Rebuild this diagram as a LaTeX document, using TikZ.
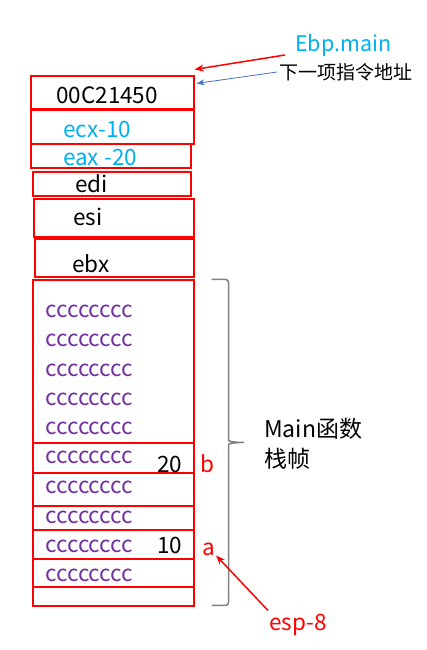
\documentclass[tikz,border=0pt]{standalone}
\usepackage{fontspec}
\setmainfont{Noto Sans CJK SC}
\usetikzlibrary{arrows.meta}
\definecolor{skyblue}{RGB}{0,176,240}
\definecolor{plum}{RGB}{112,48,160}
\definecolor{linkblue}{RGB}{68,114,196}
\tikzset{
  cell/.style={draw=red,line width=1.1pt,inner sep=0pt},
  word/.style={anchor=base west,inner sep=0pt,font=\fontsize{22.5}{26}\selectfont},
  filler/.style={word,text=plum},
  bracket/.style={draw=gray,line width=1.5pt,rounded corners=3pt},
}
\begin{document}
\begin{tikzpicture}[x=1pt,y=-1pt,>={Stealth[length=9pt,width=7pt]}]
\useasboundingbox (0,0) rectangle (427,650);
% saved registers
\node[cell,minimum width=163pt,minimum height=33pt] (r1) at (112.5,92.5) {};
\node[cell,minimum width=163pt,minimum height=34pt] (r2) at (112.5,127) {};
\node[cell,minimum width=160pt,minimum height=24pt] (r3) at (111,156) {};
\node[cell,minimum width=158pt,minimum height=24pt] (r4) at (112,184) {};
\node[cell,minimum width=160pt,minimum height=38pt] (r5) at (114,218) {};
\node[cell,minimum width=159pt,minimum height=38pt] (r6) at (114.5,258) {};
\node[word] (ret) at (56,103) {00C21450};
\node[word,text=skyblue] (ecx) at (63,137) {ecx-10};
\node[word,text=skyblue] (eax) at (63,165) {eax -20};
\node[word] (edi) at (75,192) {edi};
\node[word] (esi) at (73,225) {esi};
\node[word] (ebx) at (72,272) {ebx};
% main frame
\foreach \nm/\top/\bot in {f0/280/443,f1/443/473,f2/473/506,f3/506/530,f4/530/559,f5/559/587,f6/587/606}
  \node[cell,minimum width=161pt,minimum height={(\bot-\top)*1pt}] (\nm) at (113.5,{(\top+\bot)/2}) {};
\foreach \y [count=\i] in {317,346,376,405,434,463,493,523,552,581}
  \node[filler] (c\i) at (45,\y) {cccccccc};
\node[word] (vb) at (157,472) {20};
\node[word,text=red] (b) at (200,472) {b};
\node[word] (va) at (157,553) {10};
\node[word,text=red] (a) at (202,555) {a};
\draw[bracket] ([xshift=17pt]f0.north east) -- ++(17,0) -- ++(0,158)
  .. controls +(0,4) and +(-9,0) .. ++(17,5)
  .. controls +(-9,0) and +(0,-4) .. ++(-17,5) -- ++(0,158) -- ++(-17,0);
\node[word,font=\fontsize{23}{27}\selectfont] (mainfn) at (264,437) {Main函数};
\node[word,font=\fontsize{23}{27}\selectfont] (frame) at (264,467) {栈帧};
% pointers
\node[word,text=skyblue,font=\fontsize{21.5}{25}\selectfont] (ebp) at (295,52) {Ebp.main};
\node[anchor=west,inner sep=0pt,font=\fontsize{19}{22}\selectfont] (next) at (279,72) {下一项指令地址};
\node[word,text=red] (esp) at (269,630) {esp-8};
\draw[->,red,line width=1.5pt] ([shift={(-10pt,-3pt)}]ebp.base west) -- ([yshift=6pt]r1.north east);
\draw[->,linkblue,line width=0.8pt,>={Stealth[length=8pt,width=6pt]}] ([xshift=-2pt]next.west) -- ([shift={(2pt,-8pt)}]r1.north east);
\draw[->,red,line width=1.5pt] ([shift={(-1pt,3pt)}]esp.north west) -- ([xshift=1pt]a.south east);
\end{tikzpicture}
\end{document}
